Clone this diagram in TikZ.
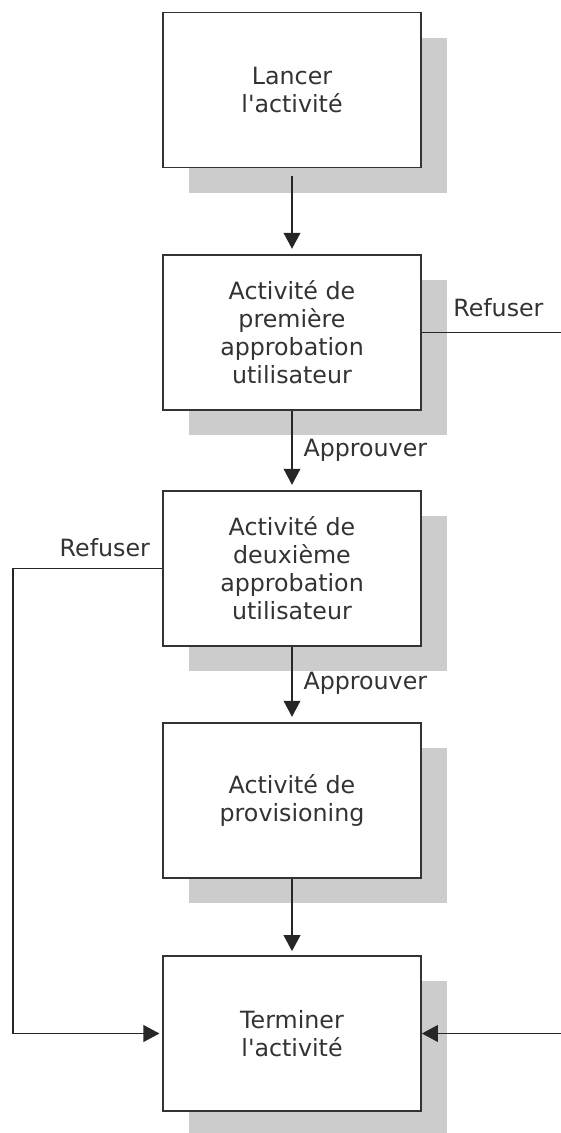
\documentclass[tikz,border=0pt]{standalone}
\usepackage{fontspec}
\newfontfamily\vfont{DejaVu Sans}
\usetikzlibrary{arrows.meta,shadows,calc}
\begin{document}
\begin{tikzpicture}[x=0.75pt,y=-0.75pt,
  box/.style={draw=black!80, line width=1.3pt, fill=white,
    minimum width=193.5pt, minimum height=116.25pt, inner sep=0pt,
    align=center, font=\vfont\fontsize{17.8}{21}\selectfont, text=black!80,
    drop shadow={shadow xshift=19.5pt, shadow yshift=-19pt, fill=black!20, opacity=1, draw=none}},
  conn/.style={draw=black!85, line width=1.3pt},
  arr/.style={conn, -{Triangle[width=12.5pt,length=12pt]}},
  lab/.style={font=\vfont\fontsize{17.8}{21}\selectfont, text=black!80, inner sep=0pt}
]
\useasboundingbox (0,0) rectangle (561,1133);

\node[box] (b1) at (292,90) {Lancer\\l'activité};
\node[box] (b2) at (292,332.5) {Activité de\\première\\approbation\\utilisateur};
\node[box] (b3) at (292,568.5) {Activité de\\deuxième\\approbation\\utilisateur};
\node[box] (b4) at (292,800.5) {Activité de\\provisioning};
\node[box] (b5) at (292,1033.5) {Terminer\\l'activité};

\coordinate (rr1) at (561,332.5);
\coordinate (lx) at (13,800);
\coordinate (rr5) at (561,1033.5);

\draw[arr, shorten <=6pt, shorten >=4pt] (b1) -- (b2);
\draw[arr, shorten >=4pt] (b2) -- node[lab, anchor=west, xshift=8pt] (a1) {Approuver} (b3);
\draw[arr, shorten >=4pt] (b3) -- node[lab, anchor=west, xshift=8pt, yshift=1pt] (a2) {Approuver} (b4);
\draw[arr, shorten >=3pt] (b4) -- (b5);

\draw[conn] (b2.east) -- node[lab, pos=0.55, above=11pt] (rf1) {Refuser} (rr1);
\draw[arr, shorten >=2pt] (b3.west) -| (lx) |- (b5.west);
\node[lab, anchor=south east] (rf2) at ([shift={(-12,-11)}]b3.west) {Refuser};
\draw[arr] (rr5) -- (b5.east);
\end{tikzpicture}
\end{document}
